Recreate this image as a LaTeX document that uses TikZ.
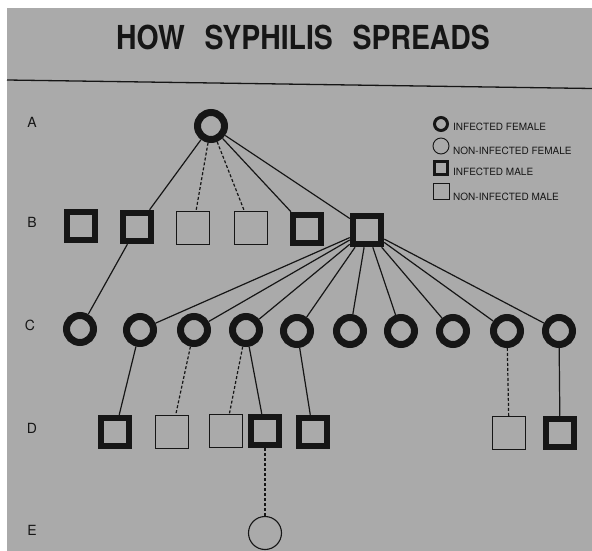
\documentclass[tikz,border=0pt]{standalone}
\usepackage{fontspec}
\setmainfont{TeX Gyre Heros}
\definecolor{papel}{RGB}{170,170,170}
\definecolor{tinta}{RGB}{22,22,22}

\begin{document}
\begin{tikzpicture}[x=1pt,y=-1pt,
		inff/.style={circle,draw=tinta,line width=7pt,inner sep=0pt,minimum size=27pt},
		naoinff/.style={circle,draw=tinta,line width=1.1pt,inner sep=0pt,minimum size=33pt},
		infm/.style={rectangle,draw=tinta,line width=6.5pt,inner sep=0pt,minimum size=28pt},
		naoinfm/.style={rectangle,draw=tinta,line width=1.1pt,inner sep=0pt,minimum size=33pt},
		liga/.style={draw=tinta,line width=1.2pt},
		ligat/.style={draw=tinta,line width=1.2pt,dash pattern=on 3pt off 2pt},
		geracao/.style={font=\fontsize{14}{14}\selectfont,text=tinta},
		legenda/.style={font=\fontsize{10}{10}\selectfont,text=tinta,anchor=west,inner sep=0pt}]
		% Fundo (papel)
		\useasboundingbox (0,0) rectangle (592,551);
		\fill[white] (0,0) rectangle (592,551);
		\fill[papel] (7,8) rectangle (592,551);
		
		% Titulo e linha
		\node[text=tinta,font=\fontsize{33}{33}\selectfont\bfseries] (titulo) at (303,37)
			{\scalebox{0.86}[1]{HOW\hspace{0.7em}SYPHILIS\hspace{0.7em}SPREADS}};
		\draw[tinta,line width=1.3pt] (7,80) -- (592,88.5);
		
		% Letras das geracoes
		\node[geracao] (ga) at (32,122) {A};
		\node[geracao] (gb) at (32,222) {B};
		\node[geracao] (gc) at (30,325) {C};
		\node[geracao] (gd) at (32,428) {D};
		\node[geracao] (ge) at (32,530) {E};
		
		% Legenda
		\node[circle,draw=tinta,line width=3pt,inner sep=0pt,minimum size=13pt] (li1) at (441,124) {};
		\node[circle,draw=tinta,line width=0.9pt,inner sep=0pt,minimum size=16pt] (li2) at (441,146) {};
		\node[rectangle,draw=tinta,line width=3pt,inner sep=0pt,minimum size=13pt] (li3) at (441,168) {};
		\node[rectangle,draw=tinta,line width=0.9pt,inner sep=0pt,minimum size=16pt] (li4) at (441,191) {};
		\node[legenda] (lt1) at (453,127) {INFECTED FEMALE};
		\node[legenda] (lt2) at (453,151) {NON-INFECTED FEMALE};
		\node[legenda] (lt3) at (453,172) {INFECTED MALE};
		\node[legenda] (lt4) at (453,197) {NON-INFECTED MALE};
		
		% Geracao A
		\node[inff] (a1) at (211,126) {};
		
		% Geracao B
		\node[infm] (b1) at (81,226) {};
		\node[infm] (b2) at (137,227) {};
		\node[naoinfm] (b3) at (193,228) {};
		\node[naoinfm] (b4) at (251,228) {};
		\node[infm] (b5) at (307,229) {};
		\node[infm] (b6) at (367,230) {};
		
		% Geracao C
		\node[inff] (c1) at (80,329) {};
		\node[inff] (c2) at (140,330) {};
		\node[inff] (c3) at (194,330) {};
		\node[inff] (c4) at (246,330) {};
		\node[inff] (c5) at (297,331) {};
		\node[inff] (c6) at (350,331) {};
		\node[inff] (c7) at (401,331) {};
		\node[inff] (c8) at (453,331) {};
		\node[inff] (c9) at (507,331) {};
		\node[inff] (c10) at (559,331) {};
		
		% Geracao D
		\node[infm] (d1) at (115,432) {};
		\node[naoinfm] (d2) at (172,432) {};
		\node[naoinfm] (d3) at (226,431) {};
		\node[infm] (d4) at (265,431) {};
		\node[infm] (d5) at (313,432) {};
		\node[naoinfm] (d6) at (509,433) {};
		\node[infm] (d7) at (560,433) {};
		
		% Geracao E
		\node[naoinff] (e1) at (265,533) {};
		
		% Ligacoes A -> B
		\draw[liga] (a1) -- (b2);
		\draw[ligat] (a1) -- (b3);
		\draw[ligat] (a1) -- (b4);
		\draw[liga] (a1) -- (b5);
		\draw[liga] (a1) -- (b6);
		
		% Ligacoes B -> C
		\draw[liga] (b2) -- (c1);
		\foreach \c in {c2,c3,c4,c5,c6,c7,c8,c9,c10}
			\draw[liga] (b6) -- (\c);
		
		% Ligacoes C -> D
		\draw[liga] (c2) -- (d1);
		\draw[ligat] (c3) -- (d2);
		\draw[ligat] (c4) -- (d3);
		\draw[liga] (c4) -- (d4);
		\draw[liga] (c5) -- (d5);
		\draw[ligat] (c9) -- (d6);
		\draw[liga] (c10) -- (d7);
		
		% Ligacao D -> E
		\draw[ligat] (d4) -- (e1);
		
	\end{tikzpicture}
\end{document}
